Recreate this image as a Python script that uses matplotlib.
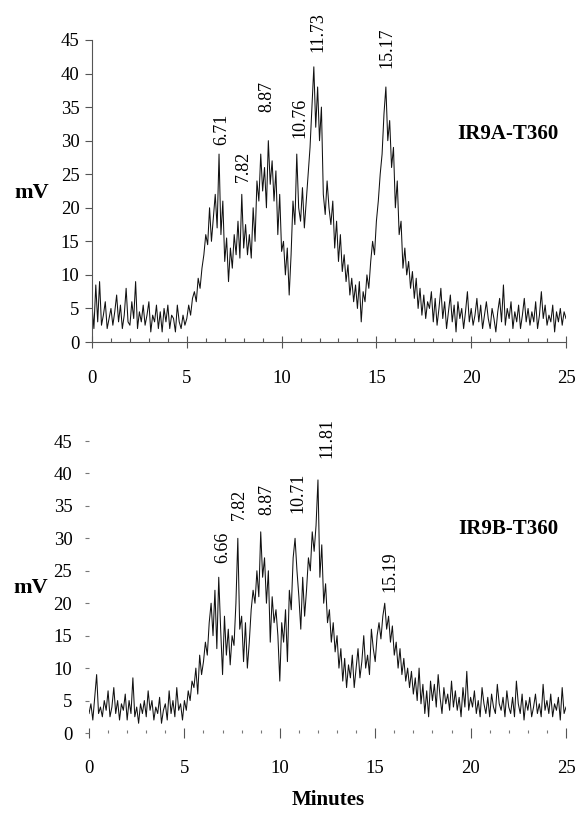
import numpy as np
import matplotlib
matplotlib.use('Agg')
import matplotlib.pyplot as plt
from matplotlib.ticker import MultipleLocator

plt.rcParams['font.family'] = ['Liberation Serif', 'DejaVu Serif']

# time axis, one reading every 0.1 min from 0 to 25
minutes = np.round(np.arange(0, 25.01, 0.1), 1)

# IR9A-T360 trace (mV)
mvA = [5.5, 2.0, 8.5, 3.0, 9.0, 2.5, 4.0, 6.0, 2.0, 3.5,
       5.0, 2.5, 4.5, 7.0, 3.0, 5.5, 2.0, 4.0, 8.0, 3.0,
       2.5, 6.0, 3.5, 9.0, 2.0, 4.5, 3.0, 5.5, 2.5, 4.0,
       6.0, 1.5, 4.0, 3.0, 5.5, 2.0, 4.5, 1.5, 5.0, 3.0,
       5.5, 2.0, 4.0, 3.5, 1.5, 5.5, 3.0, 2.0, 4.0, 2.5,
       3.5, 5.5, 4.0, 6.5, 7.5, 6.0, 9.5, 8.0, 11.0, 13.0,
       16.0, 14.5, 20.0, 15.0, 18.5, 22.0, 17.0, 28.0, 16.0, 21.0,
       12.0, 15.5, 9.0, 14.0, 11.0, 16.0, 13.0, 18.0, 12.5, 22.0,
       14.0, 17.5, 13.0, 16.0, 12.5, 20.0, 15.0, 24.0, 21.0, 28.0,
       22.5, 26.0, 20.0, 30.0, 23.5, 27.0, 21.0, 25.5, 16.0, 22.0,
       13.5, 15.0, 10.0, 14.0, 7.0, 13.0, 21.0, 17.5, 28.0, 20.0,
       18.0, 23.0, 17.0, 21.0, 25.0, 29.0, 35.0, 41.0, 32.0, 38.0,
       30.0, 35.0, 22.0, 19.0, 24.0, 20.0, 17.5, 21.0, 14.0, 18.0,
       12.0, 16.0, 10.5, 13.0, 9.0, 11.5, 7.0, 9.5, 6.0, 8.5,
       5.0, 9.0, 3.0, 7.5, 6.0, 10.0, 8.0, 12.0, 15.0, 13.0,
       18.0, 21.0, 25.0, 28.0, 34.0, 38.0, 30.0, 33.0, 26.0, 29.0,
       20.0, 24.0, 16.0, 18.0, 11.0, 14.0, 10.0, 12.0, 8.0, 10.5,
       6.5, 9.5, 5.0, 8.0, 4.0, 7.0, 3.5, 6.0, 5.0, 7.5,
       3.0, 6.5, 2.5, 5.0, 8.0, 3.5, 6.0, 2.0, 4.5, 7.0,
       3.0, 5.5, 1.5, 6.0, 3.5, 5.0, 2.0, 4.5, 7.5, 3.0,
       5.0, 2.5, 4.0, 6.5, 3.0, 5.5, 2.0, 4.0, 6.0, 3.5,
       2.0, 5.0, 3.5, 1.5, 4.5, 6.5, 3.0, 8.5, 2.5, 5.0,
       3.5, 6.0, 2.0, 4.5, 3.0, 5.5, 2.0, 4.0, 6.5, 3.0,
       5.0, 2.5, 4.5, 3.0, 6.0, 2.0, 4.0, 7.5, 3.5, 5.5,
       2.5, 4.0, 3.0, 5.5, 1.5, 4.5, 3.0, 5.0, 2.5, 4.5,
       3.5]

# IR9B-T360 trace (mV)
mvB = [3.0, 4.5, 2.0, 5.5, 9.0, 3.0, 4.0, 2.5, 5.0, 3.5,
       6.5, 2.5, 4.0, 7.0, 3.0, 5.0, 2.0, 4.5, 3.5, 6.0,
       2.0, 5.0, 3.0, 8.5, 2.5, 4.0, 1.5, 4.5, 3.0, 5.0,
       2.5, 6.5, 3.5, 5.0, 2.0, 4.0, 3.0, 5.5, 1.5, 3.5,
       4.5, 2.0, 6.5, 3.0, 5.0, 2.5, 7.0, 3.5, 4.5, 2.0,
       5.0, 3.5, 6.5, 5.0, 8.0, 7.0, 10.0, 6.0, 12.0, 9.0,
       11.0, 14.0, 12.0, 17.0, 20.0, 15.0, 22.0, 13.0, 24.0, 16.0,
       9.0, 18.0, 12.0, 16.0, 10.5, 15.0, 13.5, 20.0, 30.0, 16.0,
       18.0, 11.0, 17.0, 10.0, 14.0, 19.0, 22.0, 20.0, 25.0, 21.0,
       31.0, 24.0, 27.0, 20.0, 25.0, 14.0, 21.0, 17.0, 19.0, 15.0,
       8.0, 17.0, 14.0, 19.0, 11.0, 22.0, 19.0, 27.0, 30.0, 25.0,
       21.0, 16.0, 24.0, 18.0, 22.0, 27.0, 25.0, 31.0, 28.0, 32.0,
       39.0, 24.0, 29.0, 20.0, 23.0, 17.0, 19.0, 14.0, 17.0, 12.5,
       15.0, 10.0, 13.0, 8.0, 11.5, 7.0, 10.5, 8.5, 12.0, 7.0,
       10.0, 13.0, 8.5, 11.0, 15.0, 10.0, 12.0, 9.0, 16.0, 13.0,
       11.0, 15.0, 17.0, 14.5, 18.0, 20.0, 16.0, 18.0, 14.0, 16.5,
       12.0, 14.0, 10.0, 13.0, 9.0, 11.5, 8.0, 10.0, 7.0, 9.5,
       6.0, 8.5, 5.0, 10.0, 4.5, 7.5, 3.0, 6.5, 2.5, 8.0,
       5.0, 7.5, 4.0, 9.0, 5.5, 3.0, 7.0, 4.5, 6.0, 3.5,
       8.0, 4.0, 6.5, 3.5, 5.5, 2.5, 7.0, 4.0, 9.5, 3.5,
       5.5, 4.0, 6.5, 3.0, 5.0, 2.5, 7.0, 4.5, 3.0, 5.5,
       2.5, 6.0, 4.0, 3.0, 7.5, 4.5, 3.5, 5.5, 2.5, 6.5,
       4.0, 3.0, 5.5, 2.5, 8.0, 4.5, 3.0, 6.0, 2.0, 5.0,
       3.5, 5.5, 2.5, 4.0, 6.0, 3.0, 4.5, 2.5, 7.5, 3.5,
       5.0, 3.0, 6.0, 2.5, 4.5, 3.5, 5.5, 2.0, 7.0, 3.0,
       4.0]

# peak annotations: text, x position, y of text bottom
peaksA = ['6.71', '7.82', '8.87', '10.76', '11.73', '15.17']
peaksA_x = [6.86, 7.96, 9.2, 10.97, 11.93, 15.56]
peaksA_y = [29.4, 23.8, 34.3, 30.4, 43.2, 40.8]

peaksB = ['6.66', '7.82', '8.87', '10.71', '11.81', '15.19']
peaksB_x = [7.02, 7.9, 9.3, 10.96, 12.45, 15.78]
peaksB_y = [26.2, 32.8, 33.6, 33.9, 42.4, 21.7]

W, H = 579, 813
fig = plt.figure(figsize=(W / 100, H / 100), dpi=100)

axA = fig.add_axes([92 / W, 1 - 342 / H, 474 / W, 302 / H])
axB = fig.add_axes([89 / W, 1 - 733 / H, 477 / W, 292 / H])


def setup(ax, dotted):
    ax.set_xlim(0, 25)
    ax.set_ylim(0, 45)
    ax.xaxis.set_major_locator(MultipleLocator(5))
    ax.xaxis.set_minor_locator(MultipleLocator(1))
    ax.yaxis.set_major_locator(MultipleLocator(5))
    for s in ['top', 'right']:
        ax.spines[s].set_visible(False)
    ax.tick_params(labelsize=13.5)
    if dotted:
        # the lower panel's axes are printed faintly, only the tick marks show
        ax.spines['left'].set_visible(False)
        ax.spines['bottom'].set_visible(False)
        ax.tick_params(axis='y', direction='out', length=3, width=0.8, color='#777777', pad=9)
        ax.tick_params(axis='x', which='major', direction='inout', length=7, width=0.8, color='#555555', pad=16)
        ax.tick_params(axis='x', which='minor', direction='in', length=2, width=0.8, color='#777777')
    else:
        ax.spines['left'].set_color('#555555')
        ax.spines['bottom'].set_color('#555555')
        ax.tick_params(axis='y', direction='out', length=5, width=0.8, color='#555555', pad=4)
        ax.tick_params(axis='x', which='major', direction='inout', length=9, width=0.8, color='#555555', pad=16)
        ax.tick_params(axis='x', which='minor', direction='in', length=3, width=0.8, color='#555555')


setup(axA, False)
setup(axB, True)

axA.plot(minutes, mvA, color='#111111', lw=0.75)
axB.plot(minutes, mvB, color='#111111', lw=0.75)

for t, x, y in zip(peaksA, peaksA_x, peaksA_y):
    axA.text(x, y, t, rotation=90, ha='center', va='bottom', fontsize=13, clip_on=False)
for t, x, y in zip(peaksB, peaksB_x, peaksB_y):
    axB.text(x, y, t, rotation=90, ha='center', va='bottom', fontsize=13, clip_on=False)

axA.text(0.985, 0.69, 'IR9A-T360', transform=axA.transAxes, ha='right', va='center',
         fontsize=15, fontweight='bold')
axB.text(0.985, 0.70, 'IR9B-T360', transform=axB.transAxes, ha='right', va='center',
         fontsize=15, fontweight='bold')

fig.text(32 / W, 1 - 193 / H, 'mV', ha='center', va='center', fontsize=16, fontweight='bold')
fig.text(31 / W, 1 - 588 / H, 'mV', ha='center', va='center', fontsize=16, fontweight='bold')
fig.text(328 / W, 1 - 800 / H, 'Minutes', ha='center', va='center', fontsize=15, fontweight='bold')

fig.savefig('out.png', dpi=100)
